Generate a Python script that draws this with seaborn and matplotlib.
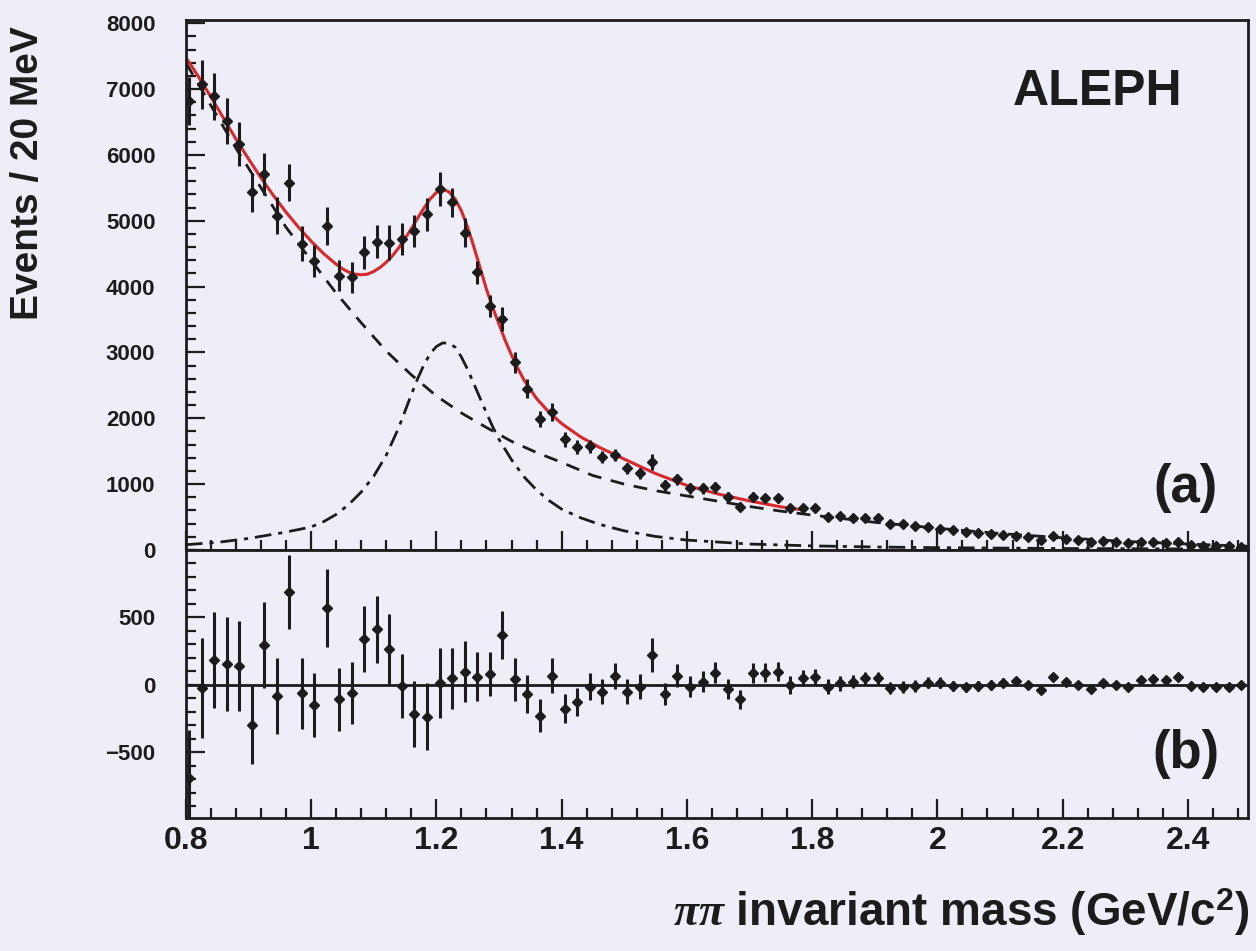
import numpy as np
import pandas as pd
import matplotlib
matplotlib.use('Agg')
import matplotlib.pyplot as plt
from matplotlib.ticker import MultipleLocator
import seaborn as sns

# bin centres (20 MeV bins)
mass = np.round(np.arange(0.805, 2.5, 0.02), 3)

# events per bin (panel a)
events = [6820, 7070, 6890, 6515, 6160, 5430, 5710, 5075, 5580, 4650,
          4390, 4920, 4165, 4140, 4520, 4680, 4670, 4720, 4850, 5100,
          5480, 5280, 4820, 4215, 3710, 3510, 2850, 2450, 1995, 2095,
          1680, 1565, 1575, 1414, 1440, 1238, 1162, 1338, 985, 1071,
          935, 935, 950, 798, 656, 808, 783, 783, 632, 632,
          632, 505, 515, 480, 480, 480, 394, 394, 370, 350,
          320, 300, 280, 255, 240, 225, 210, 195, 150, 210,
          165, 150, 125, 135, 125, 110, 120, 115, 110, 115,
          70, 65, 60, 55, 50]

# statistical errors (half width)
errors = [360, 370, 355, 350, 335, 290, 320, 280, 275, 265,
          240, 290, 235, 230, 245, 250, 260, 240, 245, 250,
          260, 225, 225, 180, 165, 180, 160, 140, 120, 130,
          110, 105, 100, 95, 95, 90, 90, 125, 85, 85,
          80, 80, 80, 75, 70, 75, 70, 70, 65, 60,
          60, 55, 55, 50, 50, 50, 45, 45, 45, 40,
          40, 40, 35, 35, 35, 35, 30, 30, 30, 30,
          30, 30, 28, 28, 26, 26, 25, 25, 25, 25,
          22, 22, 20, 20, 20]

# data - fit (panel b)
residuals = [-690, -25, 185, 155, 141, -296, 296, -81, 691, -62,
             -148, 568, -106, -57, 338, 412, 264, -7, -215, -235,
             17, 49, 99, 62, 81, 370, 42, -67, -227, 67,
             -175, -124, -12, -49, 67, -49, -12, 222, -67, 67,
             -12, 25, 91, -32, -106, 86, 91, 99, 0, 49,
             57, -12, 12, 25, 49, 49, -25, -12, -7, 17,
             17, -7, -17, -7, 0, 17, 32, 0, -37, 57,
             25, 0, -32, 12, 0, -17, 37, 42, 37, 57,
             -7, -12, -12, -12, 0]

# total fit (red)
fit_x = [0.80, 0.82, 0.84, 0.86, 0.88, 0.90, 0.92, 0.94, 0.96, 0.98,
         1.00, 1.02, 1.04, 1.05, 1.06, 1.07, 1.08, 1.09, 1.10, 1.11,
         1.12, 1.13, 1.14, 1.15, 1.16, 1.17, 1.18, 1.19, 1.20, 1.21,
         1.22, 1.23, 1.24, 1.25, 1.26, 1.27, 1.28, 1.29, 1.30, 1.31,
         1.32, 1.33, 1.34, 1.36, 1.38, 1.40, 1.43, 1.46, 1.50, 1.55,
         1.60, 1.65, 1.70, 1.75, 1.78]
fit_y = [7480, 7190, 6880, 6560, 6240, 5940, 5650, 5380, 5130, 4900,
         4690, 4500, 4340, 4270, 4220, 4190, 4180, 4190, 4230, 4290,
         4370, 4470, 4590, 4730, 4880, 5040, 5190, 5330, 5430, 5480,
         5440, 5330, 5150, 4900, 4600, 4280, 3960, 3680, 3430, 3180,
         2960, 2760, 2580, 2300, 2090, 1920, 1720, 1560, 1380, 1160,
         980, 850, 745, 655, 615]

# background (dashed)
bkg_x = [0.80, 0.84, 0.88, 0.92, 0.96, 1.00, 1.04, 1.08, 1.12, 1.16,
         1.20, 1.24, 1.28, 1.32, 1.36, 1.40, 1.45, 1.50, 1.55, 1.60,
         1.65, 1.70, 1.75, 1.80, 1.90, 2.00, 2.10, 2.20, 2.30, 2.40, 2.50]
bkg_y = [7400, 6750, 6100, 5500, 4900, 4400, 3900, 3450, 3020, 2660,
         2340, 2080, 1860, 1650, 1480, 1330, 1130, 1000, 900, 820,
         740, 660, 590, 530, 420, 330, 250, 185, 130, 90, 55]

# f2(1270) resonance (dash-dot)
bw_x = [0.80, 0.85, 0.90, 0.95, 0.98, 1.00, 1.02, 1.04, 1.06, 1.08,
        1.10, 1.12, 1.14, 1.16, 1.17, 1.18, 1.19, 1.20, 1.21, 1.22,
        1.23, 1.24, 1.25, 1.26, 1.27, 1.28, 1.29, 1.30, 1.32, 1.34,
        1.36, 1.38, 1.40, 1.43, 1.46, 1.50, 1.55, 1.60, 1.70, 1.80,
        1.90, 2.00, 2.20, 2.50]
bw_y = [80, 115, 175, 255, 310, 350, 430, 540, 690, 880,
        1120, 1440, 1860, 2360, 2600, 2810, 2980, 3090, 3145, 3140,
        3080, 2930, 2740, 2520, 2300, 2080, 1870, 1680, 1370, 1110,
        910, 750, 620, 490, 390, 290, 205, 150, 90, 62,
        45, 35, 22, 12]

bg_col = '#eeeef9'
ink = '#1c1c1c'

sns.set_theme(style='white')
plt.rcParams['font.family'] = ['Liberation Sans', 'DejaVu Sans']
plt.rcParams['font.weight'] = 'bold'
plt.rcParams['mathtext.fontset'] = 'custom'
plt.rcParams['mathtext.rm'] = 'Liberation Sans:bold'
plt.rcParams['mathtext.it'] = 'Liberation Serif:italic'
plt.rcParams['mathtext.bf'] = 'Liberation Sans:bold'

fig = plt.figure(figsize=(12.56, 9.51), dpi=100, facecolor=bg_col)
ax1 = fig.add_axes([0.148, 0.4217, 0.8456, 0.5573], facecolor=bg_col)
ax2 = fig.add_axes([0.148, 0.1399, 0.8456, 0.2818], facecolor=bg_col, sharex=ax1)

df = pd.DataFrame({'mass': mass, 'events': events, 'err': errors, 'resid': residuals})

# panel (a): curves
sns.lineplot(x=bw_x, y=bw_y, ax=ax1, color=ink, lw=2, sort=False)
ax1.lines[-1].set_dashes([6, 2.5, 1.5, 2.5])
sns.lineplot(x=bkg_x, y=bkg_y, ax=ax1, color=ink, lw=2, sort=False)
ax1.lines[-1].set_dashes([5, 3.5])
sns.lineplot(x=fit_x, y=fit_y, ax=ax1, color='#d8282c', lw=2.2, sort=False)

ax1.errorbar(df['mass'], df['events'], yerr=df['err'], fmt='D', ms=5.5,
             color=ink, ecolor=ink, elinewidth=2.2, capsize=0, zorder=5)

# panel (b): residuals
ax2.axhline(0, color=ink, lw=2)
ax2.errorbar(df['mass'], df['resid'], yerr=df['err'], fmt='D', ms=5.5,
             color=ink, ecolor=ink, elinewidth=2.2, capsize=0, zorder=5)

ax1.set_xlim(0.8, 2.496)
ax1.set_ylim(0, 8050)
ax2.set_ylim(-985, 1000)

for ax in (ax1, ax2):
    for s in ax.spines.values():
        s.set_linewidth(2)
        s.set_color(ink)
    ax.xaxis.set_major_locator(MultipleLocator(0.2))
    ax.xaxis.set_minor_locator(MultipleLocator(0.04))
    ax.tick_params(which='both', direction='in', colors=ink, width=1.6,
                   top=False, right=False, bottom=True, left=True)
    ax.tick_params(which='major', length=14)
    ax.tick_params(which='minor', length=7)
    ax.tick_params(axis='y', labelsize=16, pad=22)
    ax.set_xlabel('')
    ax.set_ylabel('')

ax1.yaxis.set_major_locator(MultipleLocator(1000))
ax1.yaxis.set_minor_locator(MultipleLocator(200))
ax1.tick_params(axis='x', labelbottom=False)

ax2.set_yticks([-500, 0, 500])
ax2.yaxis.set_minor_locator(MultipleLocator(100))
ax2.tick_params(axis='x', labelsize=23, pad=6)
ax2.set_xticks([0.8, 1.0, 1.2, 1.4, 1.6, 1.8, 2.0, 2.2, 2.4])
ax2.set_xticklabels(['0.8', '1', '1.2', '1.4', '1.6', '1.8', '2', '2.2', '2.4'])

for lab in ax1.get_yticklabels() + ax2.get_yticklabels() + ax2.get_xticklabels():
    lab.set_fontweight('bold')

fig.text(0.874, 0.903, 'ALEPH', fontsize=36, fontweight='bold', color=ink,
         ha='center', va='center')
fig.text(0.944, 0.487, '(a)', fontsize=38, fontweight='bold', color=ink,
         ha='center', va='center')
fig.text(0.944, 0.207, '(b)', fontsize=38, fontweight='bold', color=ink,
         ha='center', va='center')

fig.text(0.022, 0.818, 'Events / 20 MeV', rotation=90, fontsize=28,
         fontweight='bold', color=ink, ha='center', va='center')
fig.text(0.995, 0.041, r'$\pi\pi$ invariant mass (GeV/c$^{2}$)', fontsize=33,
         fontweight='bold', color=ink, ha='right', va='center')

fig.savefig('out.png', dpi=100, facecolor=bg_col)
